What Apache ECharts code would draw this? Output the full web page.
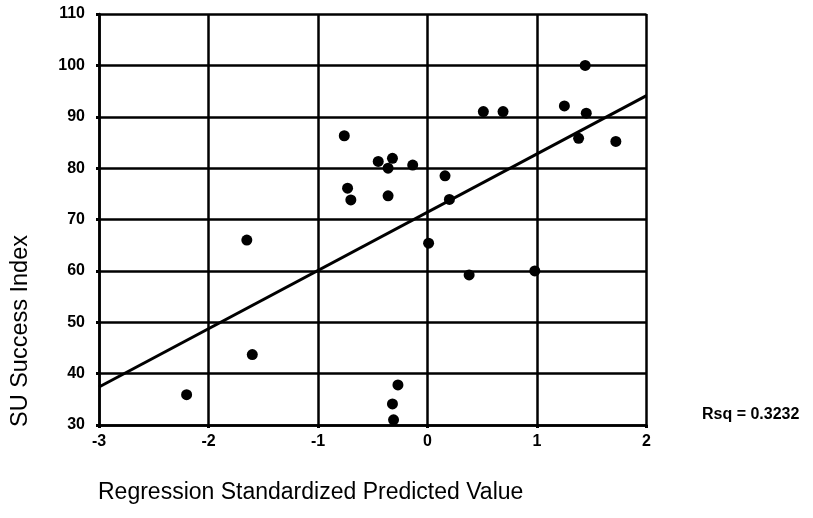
<!DOCTYPE html>
<html>
<head>
<meta charset="utf-8">
<script src="https://cdn.jsdelivr.net/npm/echarts@6/dist/echarts.min.js"></script>
<style>
html,body{margin:0;padding:0;background:#fff;}
#chart{width:813px;height:518px;}
</style>
</head>
<body>
<div id="chart"></div>
<script>
// Observed points: standardized predicted value (x) vs SU Success Index (y)
var predX = [-2.20, -1.65, -1.60, -0.76, -0.73, -0.70, -0.45, -0.36, -0.32, -0.36, -0.135,
             -0.27, -0.32, -0.31, 0.01, 0.16, 0.20, 0.38, 0.51, 0.69, 0.98, 1.25, 1.44, 1.45, 1.38, 1.72];
var successY = [35.9, 66.0, 43.7, 86.3, 76.1, 73.8, 81.3, 80.0, 81.9, 74.6, 80.6,
                37.8, 34.1, 31.0, 65.4, 78.5, 73.9, 59.2, 91.0, 91.0, 60.0, 92.1, 100.0, 90.7, 85.8, 85.2];
// Fitted regression line endpoints
var fitX = [-3, 2];
var fitY = [37.4, 94.1];
var xTicks = [-3, -2, -1, 0, 1, 2];
var yTicks = [30, 40, 50, 60, 70, 80, 90, 100, 110];
var rsqText = 'Rsq = 0.3232';
var xTitle = 'Regression Standardized Predicted Value';
var yTitle = 'SU Success Index';

var pts = predX.map(function (x, i) { return [x, successY[i]]; });
var fit = fitX.map(function (x, i) { return [x, fitY[i]]; });

var chart = echarts.init(document.getElementById('chart'));
var lineStyle = { color: '#000', width: 2.5 };
chart.setOption({
  backgroundColor: '#fff',
  animation: false,
  grid: { left: 99, right: 166.5, top: 14, bottom: 93, containLabel: false },
  xAxis: {
    type: 'value', min: xTicks[0], max: xTicks[xTicks.length - 1], interval: 1,
    axisLine: { show: true, onZero: false, lineStyle: lineStyle },
    axisTick: { show: true, length: 3, lineStyle: { color: '#000', width: 3 } },
    splitLine: { show: true, lineStyle: lineStyle },
    axisLabel: { margin: 9, color: '#000', fontFamily: 'Liberation Sans', fontWeight: 'bold', fontSize: 16 }
  },
  yAxis: {
    type: 'value', min: yTicks[0], max: yTicks[yTicks.length - 1], interval: 10,
    axisLine: { show: true, onZero: false, lineStyle: lineStyle },
    axisTick: { show: true, length: 3, lineStyle: { color: '#000', width: 3 } },
    splitLine: { show: true, lineStyle: lineStyle },
    axisLabel: { margin: 14, color: '#000', fontFamily: 'Liberation Sans', fontWeight: 'bold', fontSize: 16 }
  },
  series: [
    {
      type: 'line', data: fit, symbol: 'none', silent: true,
      lineStyle: { color: '#000', width: 3 }, z: 3
    },
    {
      type: 'scatter', data: pts, symbol: 'circle', symbolSize: 11,
      itemStyle: { color: '#000', opacity: 1 }, z: 4
    }
  ],
  graphic: [
    { type: 'text', x: 21, y: 331, rotation: Math.PI / 2,
      style: { text: yTitle, fill: '#000', font: '23.5px "Liberation Sans"', textAlign: 'center', textVerticalAlign: 'middle' } },
    { type: 'text', x: 98, y: 492.5,
      style: { text: xTitle, fill: '#000', font: '23px "Liberation Sans"', textAlign: 'left', textVerticalAlign: 'middle' } },
    { type: 'text', x: 702, y: 415,
      style: { text: rsqText, fill: '#000', font: 'bold 16px "Liberation Sans"', textAlign: 'left', textVerticalAlign: 'middle' } }
  ]
});
</script>
</body>
</html>
